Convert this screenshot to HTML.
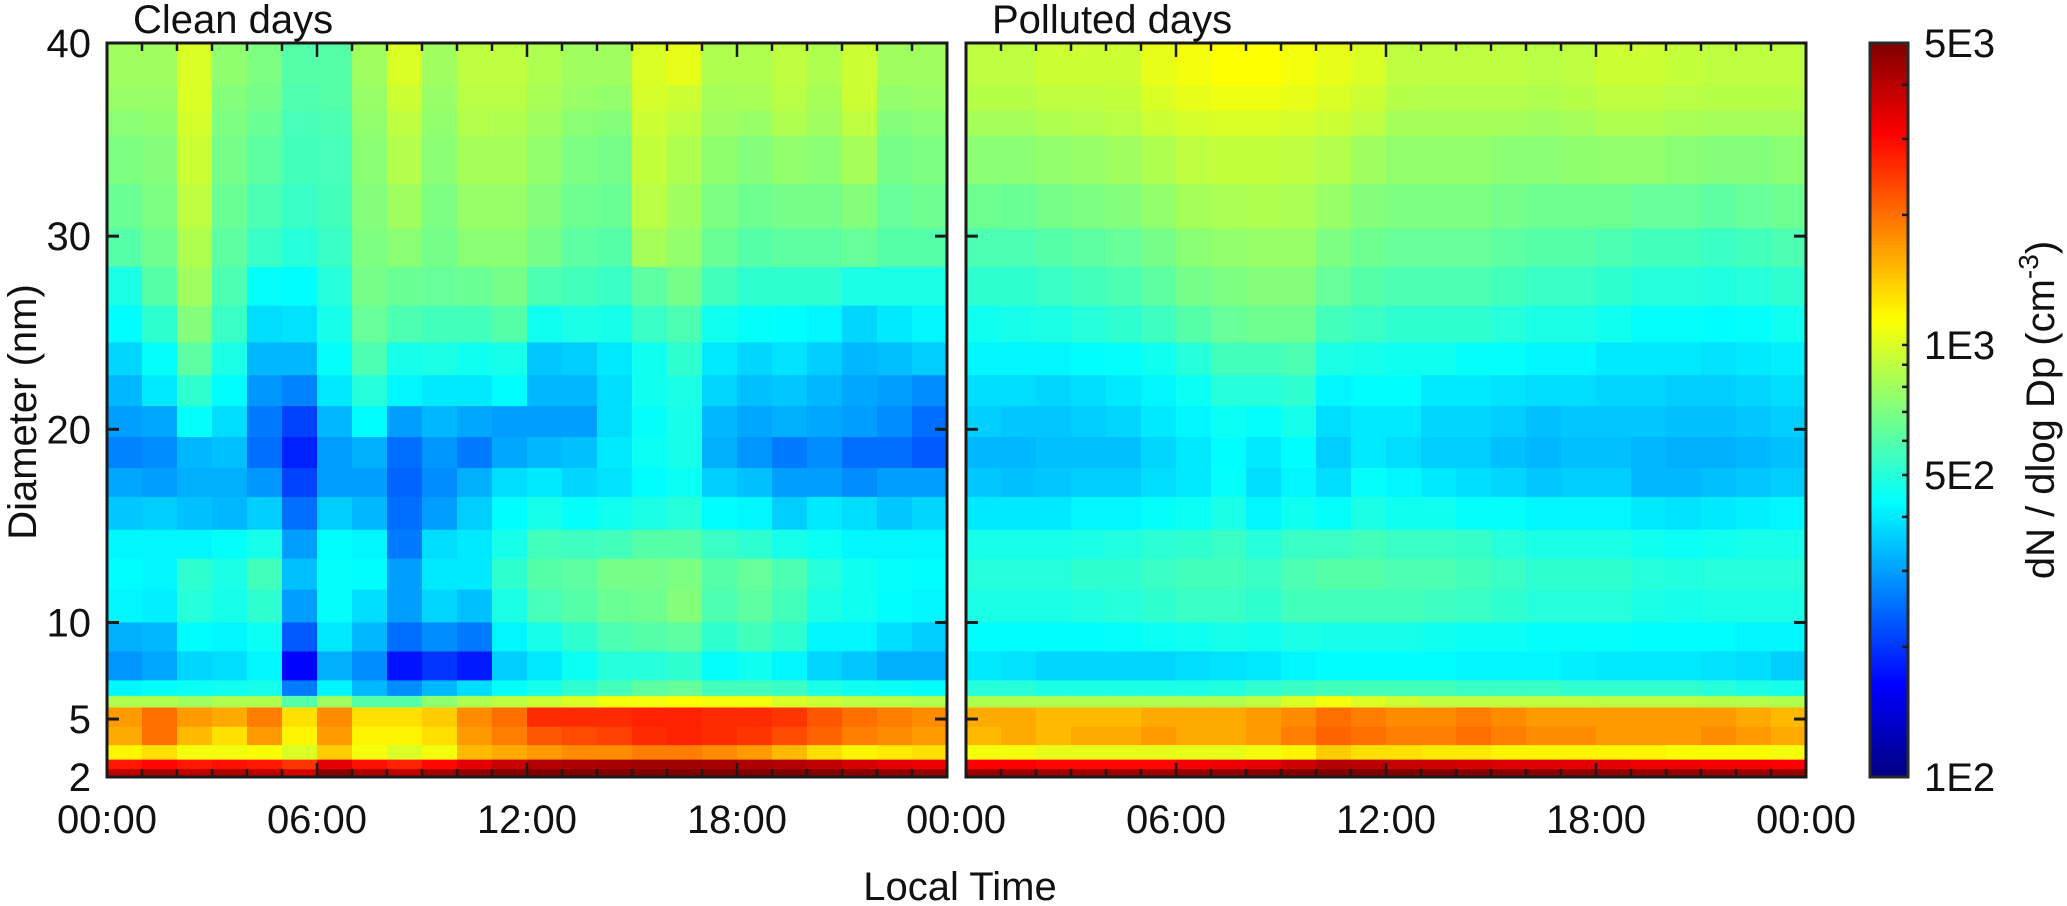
<!DOCTYPE html>
<html><head><meta charset="utf-8"><style>
html,body{margin:0;padding:0;background:#fff;}
svg{display:block;font-family:"Liberation Sans",Arial,sans-serif;}
</style></head><body>
<svg id="chart" width="2067" height="906" viewBox="0 0 2067 906" xmlns="http://www.w3.org/2000/svg">
<g id="cells"></g><g id="axes"></g>
</svg>
<script>
// diameter bin edges (nm), top to bottom
const rowEdges = [40,37.8,36.5,35.2,32.7,30.4,28.4,26.4,24.5,22.8,21.2,19.6,18,16.5,14.8,13.3,11.7,10,8.5,7,6.2,5.6,4.6,3.65,2.9,2.4,2];
const hours = [0,1,2,3,4,5,6,7,8,9,10,11,12,13,14,15,16,17,18,19,20,21,22,23];
const yTicks = [2,5,10,20,30,40];
const xTickLabels = ["00:00","06:00","12:00","18:00","00:00"];
const cbTicks = [5000,1000,500,100];
const cbTickLabels = ["5E3","1E3","5E2","1E2"];
const cbMinor = [200,300,400,600,700,800,900,2000,3000,4000];
const cleanValues = [
[800,800,1000,750,700,600,600,800,1000,800,900,900,850,800,800,1000,1050,850,850,900,850,950,800,800],
[780,780,1000,720,680,590,600,780,950,780,880,880,830,780,760,980,950,820,830,880,820,950,760,780],
[740,750,980,700,650,570,580,760,900,760,860,850,800,740,720,950,900,800,780,850,800,900,720,740],
[700,720,950,680,620,560,570,740,860,740,820,820,760,700,680,920,850,750,720,760,740,820,680,700],
[650,700,900,650,580,540,560,720,800,700,780,780,720,660,650,880,800,700,660,680,680,720,640,660],
[600,660,850,620,540,500,540,700,740,680,740,740,680,620,600,820,760,650,600,620,620,640,600,600],
[480,600,800,580,440,430,500,680,650,640,650,680,580,560,540,620,680,560,520,520,520,480,480,480],
[430,520,720,540,380,390,470,640,580,560,560,600,460,480,470,540,580,460,440,430,420,370,400,420],
[370,440,620,480,330,330,440,580,470,480,460,470,350,360,400,460,520,400,370,390,360,330,340,360],
[330,400,520,430,290,270,400,500,420,400,400,430,330,330,380,460,480,370,340,350,330,310,300,280],
[300,310,440,380,260,210,330,430,300,330,310,300,300,300,380,440,470,330,310,320,310,300,280,250],
[270,280,330,340,250,185,300,320,250,290,260,310,330,340,400,450,470,320,290,260,280,250,250,230],
[310,300,320,320,290,210,300,300,240,280,320,380,400,370,390,430,450,360,340,300,300,280,300,300],
[350,360,340,330,360,250,360,330,250,300,360,430,470,440,460,480,500,430,420,360,400,380,350,370],
[420,420,420,440,470,300,430,420,260,380,400,470,560,550,560,600,600,540,520,470,450,420,420,420],
[430,420,520,480,560,340,440,430,300,400,400,520,600,620,680,680,700,600,640,580,500,460,440,430],
[420,410,500,470,520,300,440,380,300,370,340,480,570,600,650,660,720,580,620,560,480,460,430,420],
[320,330,430,420,450,230,400,330,250,280,260,420,470,520,580,600,620,520,560,520,420,420,380,360],
[290,310,370,380,420,165,320,280,175,200,180,360,400,450,500,500,520,440,460,420,370,350,320,320],
[420,440,450,460,470,260,420,330,280,330,380,440,470,520,560,620,640,560,560,540,480,460,450,440],
[850,850,800,850,850,600,800,600,600,750,850,900,950,1000,1100,1100,1150,1100,1100,1000,950,900,880,860],
[1700,2000,1700,1600,1900,1300,1800,1300,1300,1400,1800,2000,2600,2600,2600,2700,2700,2600,2600,2500,2200,2000,1900,1800],
[1600,2000,1500,1300,1700,1200,1700,1200,1200,1300,1700,1900,2200,2300,2400,2600,2700,2600,2500,2300,2100,1900,1800,1700],
[1200,1300,1100,1100,1150,1000,1400,1100,1000,1100,1500,1600,1700,1800,1800,1900,1900,1800,1700,1500,1300,1200,1250,1300],
[2800,3000,2800,2900,2800,2500,3400,2900,2700,3000,3400,3800,4100,4200,4300,4400,4400,4300,4200,4100,3900,3600,3400,3300],
[3900,4300,3900,4200,3900,3600,4800,4200,3900,4300,4700,4900,5000,5000,5000,5000,5000,5000,5000,5000,4900,4800,4700,4600]
];
const pollutedValues = [
[900,900,950,950,950,1050,1100,1150,1150,1100,1050,1000,900,900,900,900,880,900,950,950,920,900,900,900],
[870,870,900,900,920,1000,1050,1080,1080,1050,1000,950,870,860,860,860,850,870,900,900,880,870,870,870],
[820,820,850,860,880,940,980,1000,1000,980,950,900,820,820,820,820,800,820,850,850,830,820,820,820],
[740,740,760,780,800,850,900,920,920,900,860,800,760,760,760,740,740,750,760,760,740,720,720,740],
[660,650,680,700,720,760,820,840,850,840,780,720,700,700,700,680,660,660,660,640,640,620,640,660],
[580,580,600,620,640,680,740,760,780,780,700,660,640,640,640,620,600,600,580,560,560,540,560,580],
[520,520,540,560,580,620,680,700,720,720,640,600,580,580,580,560,540,540,520,500,500,490,500,520],
[460,470,480,500,520,550,600,640,660,660,560,540,520,520,520,500,480,480,460,440,440,430,440,460],
[420,420,420,430,440,460,500,560,560,580,480,470,460,460,440,440,420,420,400,400,400,390,400,410],
[380,380,370,380,400,420,450,500,500,520,420,430,430,400,400,390,380,380,370,370,360,360,370,380],
[360,350,350,360,370,400,420,450,440,470,380,400,400,370,370,360,340,350,350,350,340,340,350,360],
[330,330,340,340,340,370,400,430,400,430,360,400,380,360,360,340,330,340,340,330,320,320,330,340],
[350,340,350,360,360,380,400,440,380,420,380,440,420,400,380,370,350,360,360,330,330,340,350,360],
[400,400,400,420,420,440,450,480,420,460,440,480,460,460,440,440,420,420,420,400,390,400,410,420],
[470,470,470,480,490,510,520,540,500,540,540,560,540,540,530,500,480,480,480,460,450,460,470,470],
[500,500,500,520,520,540,560,560,540,580,600,600,580,580,560,540,520,520,520,500,490,500,500,500],
[480,480,480,490,500,520,540,540,520,560,560,560,560,550,540,520,500,500,500,480,470,480,480,480],
[430,430,430,430,440,450,460,470,460,480,470,470,470,460,450,450,440,440,440,430,430,430,420,420],
[400,390,370,370,370,370,380,390,400,420,430,430,430,430,420,420,420,410,400,400,400,390,380,360],
[500,500,480,480,480,480,480,490,520,540,560,560,560,560,540,540,540,520,520,520,520,500,480,470],
[850,850,850,850,850,850,850,850,900,1000,1100,1000,950,900,900,900,900,900,880,880,880,870,860,850],
[1600,1600,1500,1500,1500,1600,1600,1600,1700,1800,2000,1900,1800,1800,1900,1800,1700,1700,1700,1700,1700,1700,1600,1500],
[1500,1600,1500,1600,1600,1700,1600,1600,1700,1900,2100,2000,1900,1900,2000,1900,1800,1800,1700,1700,1700,1800,1700,1600],
[1100,1100,1050,1050,1050,1050,1050,1050,1100,1200,1400,1300,1300,1250,1250,1200,1200,1200,1200,1200,1150,1150,1150,1100],
[3100,3100,3000,3000,3000,3000,3200,3300,3400,3700,4100,4000,3800,3700,3600,3500,3500,3400,3400,3300,3300,3200,3200,3100],
[4500,4500,4400,4400,4400,4400,4600,4700,4800,5000,5000,5000,5000,5000,4900,4800,4800,4700,4700,4600,4600,4500,4500,4500]
];

const NS = "http://www.w3.org/2000/svg";
const svg = document.getElementById('chart');
const cellsG = document.getElementById('cells');
const axesG = document.getElementById('axes');
const TOP = 43, BOT = 777, H = BOT - TOP;
const panels = [
  {name:'clean', left:107, right:947, data:cleanValues, title:'Clean days'},
  {name:'polluted', left:966, right:1806, data:pollutedValues, title:'Polluted days'}
];
const yScale = d => TOP + (40 - d) * H / 38;
const cbScale = v => BOT - Math.log(v/100) / Math.log(50) * H;

function jet(t){
  t = Math.max(0, Math.min(1, t));
  const f = x => Math.max(0, Math.min(1, x));
  const r = f(Math.min(4*t - 1.5, -4*t + 4.5));
  const g = f(Math.min(4*t - 0.5, -4*t + 3.5));
  const b = f(Math.min(4*t + 0.5, -4*t + 2.5));
  return 'rgb(' + Math.round(r*255) + ',' + Math.round(g*255) + ',' + Math.round(b*255) + ')';
}
const colorOf = v => jet(Math.log(v/100) / Math.log(50));

function mk(tag, attrs, parent){
  const e = document.createElementNS(NS, tag);
  for (const k in attrs) e.setAttribute(k, attrs[k]);
  (parent || svg).appendChild(e);
  return e;
}

panels.forEach((p, pi) => {
  const W = p.right - p.left;
  const xScale = h => p.left + h * W / 24;
  const g = mk('g', {}, cellsG);
  
  
  for (let r = 0; r < rowEdges.length - 1; r++) {
    const y0 = yScale(rowEdges[r]), y1 = yScale(rowEdges[r+1]);
    hours.forEach((h, c) => {
      const x0 = xScale(h), x1 = xScale(h + 1);
      const rect = mk('rect', {x:x0.toFixed(2), y:y0.toFixed(2), width:(x1-x0+0.6).toFixed(2), height:(y1-y0+0.6).toFixed(2), fill:colorOf(p.data[r][c])}, g);
      
      
    });
  }
  const frame = mk('rect', {x:p.left, y:TOP, width:W, height:H, fill:'none', stroke:'#1a1a1a', 'stroke-width':3}, axesG);
  
  
  for (let h = 0; h <= 24; h++) {
    const x = xScale(h);
    const len = (h % 6 === 0) ? 14 : 8;
    mk('line', {x1:x, y1:TOP, x2:x, y2:TOP+len, stroke:'#1a1a1a', 'stroke-width':2.5}, axesG);
    mk('line', {x1:x, y1:BOT, x2:x, y2:BOT-len, stroke:'#1a1a1a', 'stroke-width':2.5}, axesG);
  }
  xTickLabels.forEach((lab, i) => {
    let x = xScale(i*6);
    if (pi === 0 && i === 4) return;
    if (pi === 1 && i === 0) x = 956;
    const t = mk('text', {x:x, y:833, 'font-size':40, 'text-anchor':'middle', fill:'#111'}, axesG);
    t.textContent = lab;
    
    
  });
  yTicks.forEach(d => {
    const y = yScale(d);
    mk('line', {x1:p.left, y1:y, x2:p.left+12, y2:y, stroke:'#1a1a1a', 'stroke-width':3}, axesG);
    mk('line', {x1:p.right, y1:y, x2:p.right-12, y2:y, stroke:'#1a1a1a', 'stroke-width':3}, axesG);
  });
  const tt = mk('text', {x:p.left+26, y:33, 'font-size':40, fill:'#111'}, axesG);
  tt.textContent = p.title;
  
  
});

yTicks.forEach(d => {
  const t = mk('text', {x:91, y:yScale(d)+14, 'font-size':40, 'text-anchor':'end', fill:'#111'}, axesG);
  t.textContent = String(d);
  
  
});

const yt = mk('text', {x:0, y:0, 'font-size':40, 'text-anchor':'middle', fill:'#111', transform:'translate(36,412) rotate(-90)'}, axesG);
yt.textContent = 'Diameter (nm)';



const xt = mk('text', {x:960, y:900, 'font-size':40, 'text-anchor':'middle', fill:'#111'}, axesG);
xt.textContent = 'Local Time';



const CBL = 1870, CBR = 1908;
const cb = mk('g', {}, axesG);


const N = 200;
for (let i = 0; i < N; i++) {
  const y0 = TOP + i*H/N;
  mk('rect', {x:CBL, y:y0.toFixed(2), width:CBR-CBL, height:(H/N+0.6).toFixed(2), fill:jet(1 - (i+0.5)/N)}, cb);
}
mk('rect', {x:CBL, y:TOP, width:CBR-CBL, height:H, fill:'none', stroke:'#2a2a2a', 'stroke-width':3}, cb);
cbMinor.concat(cbTicks.slice(1,3)).forEach(v => {
  const y = cbScale(v);
  mk('line', {x1:CBR, y1:y, x2:CBR-6, y2:y, stroke:'#1a1a1a', 'stroke-width':2.5}, cb);
});
cbTicks.forEach((v, i) => {
  const t = mk('text', {x:1924, y:cbScale(v)+14, 'font-size':40, fill:'#111'}, cb);
  t.textContent = cbTickLabels[i];
  
  
});
const ct = mk('text', {x:0, y:0, 'font-size':40, 'text-anchor':'middle', fill:'#111', transform:'translate(2054,410) rotate(-90)'}, cb);
ct.innerHTML = 'dN / dlog Dp (cm<tspan dy="-16" font-size="28">-3</tspan><tspan dy="16">)</tspan>';


</script>
</body></html>
